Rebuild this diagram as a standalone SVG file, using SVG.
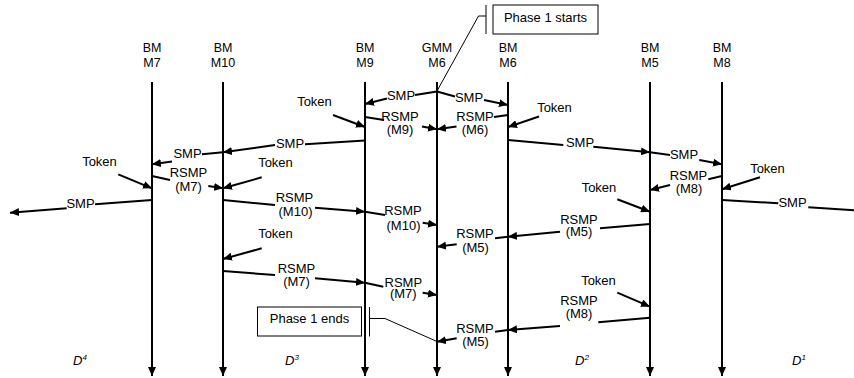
<svg xmlns="http://www.w3.org/2000/svg" width="854" height="378" viewBox="0 0 854 378">
  <defs>
    <marker id="arrow" viewBox="0 0 9 8" refX="9" refY="4" markerWidth="9" markerHeight="8" markerUnits="userSpaceOnUse" orient="auto">
      <path d="M0,0 L9,4 L0,8 z" fill="#000"/>
    </marker>
    <style>
      text { font-family: "Liberation Sans", Arial, sans-serif; font-size: 13px; fill: #000; }
      .hdr { font-size: 12.5px; text-anchor: middle; }
      .lbl { text-anchor: middle; }
      .dom { font-style: italic; font-size: 13px; }
      .sup { font-size: 8px; }
      .life { stroke: #000; stroke-width: 2; fill: none; marker-end: url(#arrow); }
      .msg line { stroke: #000; stroke-width: 2; fill: none; }
      .msg line.head { marker-end: url(#arrow); }
      .thin { stroke: #000; stroke-width: 1; fill: none; }
      .box { fill: #fff; stroke: #000; stroke-width: 1; }
    </style>
  </defs>
  <rect width="854" height="378" fill="#fff"/>

  <!-- lifelines with headers -->
  <g id="bm-m7">
    <text class="hdr" x="152" y="52">BM</text><text class="hdr" x="152" y="67">M7</text>
    <line class="life" x1="152" y1="82" x2="152" y2="376"/>
  </g>
  <g id="bm-m10">
    <text class="hdr" x="223" y="52">BM</text><text class="hdr" x="223" y="67">M10</text>
    <line class="life" x1="223" y1="82" x2="223" y2="376"/>
  </g>
  <g id="bm-m9">
    <text class="hdr" x="365" y="52">BM</text><text class="hdr" x="365" y="67">M9</text>
    <line class="life" x1="365" y1="82" x2="365" y2="376"/>
  </g>
  <g id="gmm-m6">
    <text class="hdr" x="437" y="52">GMM</text><text class="hdr" x="437" y="67">M6</text>
    <line class="life" x1="437" y1="82" x2="437" y2="376"/>
  </g>
  <g id="bm-m6">
    <text class="hdr" x="508" y="52">BM</text><text class="hdr" x="508" y="67">M6</text>
    <line class="life" x1="508" y1="82" x2="508" y2="376"/>
  </g>
  <g id="bm-m5">
    <text class="hdr" x="650" y="52">BM</text><text class="hdr" x="650" y="67">M5</text>
    <line class="life" x1="650" y1="82" x2="650" y2="376"/>
  </g>
  <g id="bm-m8">
    <text class="hdr" x="722" y="52">BM</text><text class="hdr" x="722" y="67">M8</text>
    <line class="life" x1="722" y1="82" x2="722" y2="376"/>
  </g>

  <!-- phase annotations -->
  <g id="phase-start">
    <rect class="box" x="493" y="5" width="105" height="29"/>
    <text class="lbl" x="545.5" y="21.5">Phase 1 starts</text>
    <line class="thin" x1="486" y1="5" x2="486" y2="34"/>
    <polyline class="thin" points="486,16 478.5,16 437,91"/>
  </g>
  <g id="phase-end">
    <rect class="box" x="257.5" y="307" width="104" height="29"/>
    <text class="lbl" x="309.5" y="323">Phase 1 ends</text>
    <line class="thin" x1="369.5" y1="307" x2="369.5" y2="336.5"/>
    <polyline class="thin" points="369.5,318.5 385,318.5 437,341.5"/>
  </g>

  <!-- messages -->
  <g id="connectors" class="msg">
    <!-- SMP from GMM M6 -->
    <line x1="437" y1="91.5" x2="415" y2="95"/><line class="head" x1="387" y1="98.5" x2="365" y2="104"/>
    <line x1="437" y1="91.5" x2="455" y2="96.5"/><line class="head" x1="484" y1="100" x2="508" y2="105"/>
    <!-- tokens, first round -->
    <line class="head" x1="333" y1="115" x2="365" y2="127"/>
    <line class="head" x1="539" y1="116.5" x2="508" y2="127"/>
    <!-- RSMP (M9), RSMP (M6) -->
    <line x1="365" y1="117" x2="384" y2="120"/><line class="head" x1="422" y1="126.5" x2="437" y2="129.3"/>
    <line x1="508" y1="115" x2="494" y2="117"/><line class="head" x1="456.5" y1="126.5" x2="437" y2="129.3"/>
    <!-- SMP forwarding to the west -->
    <line x1="365" y1="140.5" x2="305" y2="144.3"/><line class="head" x1="275" y1="145" x2="223" y2="152.3"/>
    <line x1="223" y1="152.3" x2="202" y2="154.3"/><line class="head" x1="172" y1="161.5" x2="152" y2="164.3"/>
    <line class="head" x1="118.3" y1="174.3" x2="152" y2="188.3"/>
    <line x1="152" y1="176" x2="170" y2="180"/><line class="head" x1="208.3" y1="186" x2="223" y2="188.3"/>
    <line class="head" x1="261.7" y1="177.3" x2="223" y2="188.3"/>
    <line x1="152" y1="200" x2="95" y2="204.3"/><line class="head" x1="66.7" y1="208.3" x2="10" y2="212.7"/>
    <line x1="223" y1="200" x2="275" y2="205"/><line class="head" x1="315" y1="207.7" x2="365" y2="211.7"/>
    <line x1="365" y1="211.7" x2="385" y2="215"/><line class="head" x1="422.7" y1="222.7" x2="437" y2="225"/>
    <line class="head" x1="261.7" y1="248.3" x2="223" y2="259"/>
    <line x1="223" y1="271" x2="275" y2="275"/><line class="head" x1="315" y1="278.3" x2="365" y2="282.7"/>
    <line x1="365" y1="282.7" x2="383.3" y2="286.7"/><line class="head" x1="422.7" y1="292.7" x2="437" y2="295"/>
    <!-- SMP forwarding to the east -->
    <line x1="508" y1="140" x2="563.3" y2="145"/><line class="head" x1="593.3" y1="146.7" x2="650" y2="152.3"/>
    <line x1="650" y1="152.3" x2="670" y2="155"/><line class="head" x1="699.3" y1="160" x2="722" y2="164.3"/>
    <line x1="722" y1="176" x2="708.3" y2="179.3"/><line class="head" x1="670" y1="185" x2="650" y2="190"/>
    <line class="head" x1="760" y1="177.3" x2="722" y2="189.3"/>
    <line x1="722" y1="200" x2="778.3" y2="203.3"/><line x1="808.3" y1="207.3" x2="856" y2="210.3"/>
    <line class="head" x1="617.3" y1="199.3" x2="650" y2="211.7"/>
    <line x1="650" y1="224" x2="600" y2="228.3"/><line class="head" x1="560" y1="231.7" x2="508" y2="236.7"/>
    <line x1="508" y1="236.7" x2="495" y2="238.3"/><line class="head" x1="456.7" y1="244.3" x2="437" y2="246.7"/>
    <line class="head" x1="617.3" y1="292.7" x2="650" y2="306.7"/>
    <line x1="650" y1="317.7" x2="598.3" y2="322.3"/><line class="head" x1="560" y1="326" x2="508" y2="330"/>
    <line x1="508" y1="330" x2="495" y2="331.7"/><line class="head" x1="456.7" y1="338.3" x2="437" y2="341.7"/>
  </g>

  <!-- message labels -->
  <g id="labels">
    <text class="lbl" x="401" y="100">SMP</text>
    <text class="lbl" x="469" y="101.5">SMP</text>
    <text class="lbl" x="314.5" y="106">Token</text>
    <text class="lbl" x="554.5" y="111.7">Token</text>
    <text class="lbl" x="400" y="120.5">RSMP</text><text class="lbl" x="400" y="133.5">(M9)</text>
    <text class="lbl" x="475" y="120.5">RSMP</text><text class="lbl" x="475" y="134">(M6)</text>
    <text class="lbl" x="290" y="148">SMP</text>
    <text class="lbl" x="187.5" y="157.5">SMP</text>
    <text class="lbl" x="99.5" y="166">Token</text>
    <text class="lbl" x="188.5" y="177">RSMP</text><text class="lbl" x="188.5" y="190.5">(M7)</text>
    <text class="lbl" x="275.5" y="166.7">Token</text>
    <text class="lbl" x="80.5" y="208.3">SMP</text>
    <text class="lbl" x="294.5" y="201.5">RSMP</text><text class="lbl" x="295.5" y="216">(M10)</text>
    <text class="lbl" x="403" y="215">RSMP</text><text class="lbl" x="403.5" y="230">(M10)</text>
    <text class="lbl" x="275.5" y="238">Token</text>
    <text class="lbl" x="296.5" y="273">RSMP</text><text class="lbl" x="296.5" y="286">(M7)</text>
    <text class="lbl" x="403.3" y="286.5">RSMP</text><text class="lbl" x="403.3" y="298">(M7)</text>
    <text class="lbl" x="580" y="147">SMP</text>
    <text class="lbl" x="684" y="159">SMP</text>
    <text class="lbl" x="688.5" y="180">RSMP</text><text class="lbl" x="689" y="193">(M8)</text>
    <text class="lbl" x="767.5" y="173">Token</text>
    <text class="lbl" x="792.5" y="207">SMP</text>
    <text class="lbl" x="599" y="191.7">Token</text>
    <text class="lbl" x="579" y="224">RSMP</text><text class="lbl" x="579" y="236">(M5)</text>
    <text class="lbl" x="475" y="238">RSMP</text><text class="lbl" x="475.5" y="252">(M5)</text>
    <text class="lbl" x="598.5" y="285">Token</text>
    <text class="lbl" x="579" y="305">RSMP</text><text class="lbl" x="579" y="318">(M8)</text>
    <text class="lbl" x="475" y="333">RSMP</text><text class="lbl" x="475.5" y="346">(M5)</text>
  </g>

  <!-- domain labels -->
  <g id="domains">
    <text class="dom" x="73" y="365">D<tspan class="sup" dy="-5">4</tspan></text>
    <text class="dom" x="285" y="365">D<tspan class="sup" dy="-5">3</tspan></text>
    <text class="dom" x="575" y="365">D<tspan class="sup" dy="-5">2</tspan></text>
    <text class="dom" x="792" y="365">D<tspan class="sup" dy="-5">1</tspan></text>
  </g>
</svg>
